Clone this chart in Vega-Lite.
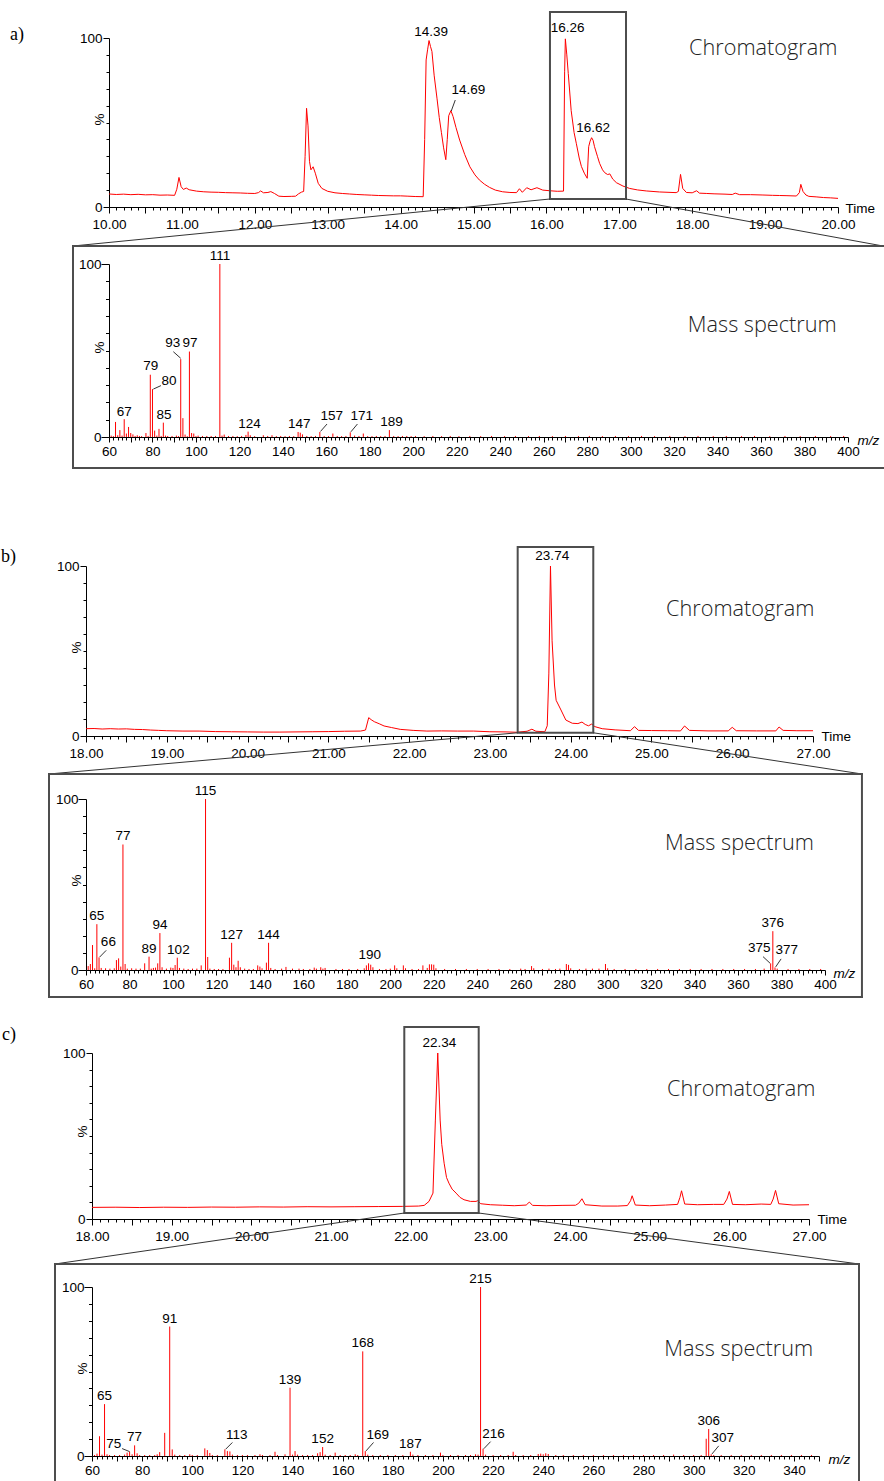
{
  "$schema": "https://vega.github.io/schema/vega-lite/v6.json",
  "background": "white",
  "padding": {"left": 0, "top": 10, "right": 0, "bottom": 0},
  "config": {
    "view": {"stroke": null},
    "axis": {
      "domainColor": "#000", "tickColor": "#000", "labelColor": "#000", "titleColor": "#000",
      "labelFont": "Liberation Sans", "labelFontSize": 13.5, "titleFont": "Liberation Sans",
      "titleFontSize": 13.5, "titleFontWeight": "normal", "grid": false, "labelFlush": false,
      "labelOverlap": false, "labelBound": false, "domainWidth": 1, "tickWidth": 1
    }
  },
  "datasets": {
    "chromA": [
      {"t":10.00,"p":7.7},{"t":10.10,"p":7.4},{"t":10.20,"p":7.6},{"t":10.30,"p":7.3},{"t":10.40,"p":7.5},{"t":10.50,"p":7.2},{"t":10.60,"p":7.3},{"t":10.70,"p":7.0},{"t":10.80,"p":7.1},{"t":10.90,"p":6.9},{"t":10.93,"p":10.5},{"t":10.96,"p":17.5},{"t":10.99,"p":12.0},{"t":11.02,"p":10.4},{"t":11.06,"p":11.2},{"t":11.10,"p":10.2},{"t":11.20,"p":9.4},{"t":11.30,"p":9.0},{"t":11.40,"p":8.8},{"t":11.50,"p":8.7},{"t":11.60,"p":8.5},{"t":11.70,"p":8.4},{"t":11.80,"p":8.3},{"t":11.90,"p":8.1},{"t":12.00,"p":8.0},{"t":12.05,"p":8.5},{"t":12.08,"p":9.5},{"t":12.12,"p":8.4},{"t":12.18,"p":8.6},{"t":12.22,"p":9.1},{"t":12.27,"p":8.0},{"t":12.33,"p":6.4},{"t":12.40,"p":6.2},{"t":12.50,"p":6.3},{"t":12.56,"p":6.4},{"t":12.60,"p":7.8},{"t":12.64,"p":8.8},{"t":12.67,"p":9.2},{"t":12.69,"p":30},{"t":12.71,"p":58.4},{"t":12.73,"p":48},{"t":12.75,"p":27},{"t":12.77,"p":22},{"t":12.80,"p":23.8},{"t":12.83,"p":20},{"t":12.87,"p":14},{"t":12.92,"p":11},{"t":13.00,"p":9.3},{"t":13.10,"p":8.4},{"t":13.20,"p":8.0},{"t":13.30,"p":7.7},{"t":13.40,"p":7.4},{"t":13.50,"p":7.2},{"t":13.60,"p":7.0},{"t":13.70,"p":6.8},{"t":13.80,"p":6.7},{"t":13.90,"p":6.6},{"t":14.00,"p":6.6},{"t":14.10,"p":6.4},{"t":14.20,"p":6.2},{"t":14.31,"p":6.1},{"t":14.33,"p":40},{"t":14.35,"p":87},{"t":14.37,"p":93},{"t":14.39,"p":98.5},{"t":14.41,"p":95},{"t":14.43,"p":92},{"t":14.46,"p":78},{"t":14.50,"p":64},{"t":14.53,"p":53},{"t":14.56,"p":44},{"t":14.59,"p":35},{"t":14.62,"p":28},{"t":14.64,"p":40},{"t":14.66,"p":54},{"t":14.69,"p":57},{"t":14.72,"p":53.5},{"t":14.76,"p":47},{"t":14.81,"p":39.6},{"t":14.88,"p":31},{"t":14.95,"p":23.8},{"t":15.02,"p":19},{"t":15.08,"p":16},{"t":15.15,"p":13.5},{"t":15.22,"p":11.6},{"t":15.30,"p":10},{"t":15.40,"p":9.0},{"t":15.50,"p":8.6},{"t":15.59,"p":8.5},{"t":15.63,"p":10.8},{"t":15.67,"p":8.7},{"t":15.73,"p":11.4},{"t":15.79,"p":10.2},{"t":15.87,"p":11.4},{"t":15.95,"p":10.0},{"t":16.05,"p":9.6},{"t":16.15,"p":9.3},{"t":16.235,"p":9.4},{"t":16.25,"p":80},{"t":16.26,"p":99.5},{"t":16.28,"p":90},{"t":16.30,"p":79},{"t":16.34,"p":57},{"t":16.38,"p":44},{"t":16.41,"p":37.7},{"t":16.45,"p":29},{"t":16.48,"p":24},{"t":16.52,"p":20},{"t":16.56,"p":17},{"t":16.58,"p":35.7},{"t":16.60,"p":39},{"t":16.62,"p":41},{"t":16.64,"p":39.5},{"t":16.66,"p":35.7},{"t":16.70,"p":30},{"t":16.73,"p":25.8},{"t":16.77,"p":22},{"t":16.80,"p":20.3},{"t":16.84,"p":19.2},{"t":16.87,"p":19.6},{"t":16.91,"p":16.5},{"t":16.96,"p":14.4},{"t":17.05,"p":12.4},{"t":17.14,"p":11},{"t":17.25,"p":10.1},{"t":17.37,"p":9.5},{"t":17.55,"p":8.9},{"t":17.78,"p":8.5},{"t":17.81,"p":9.2},{"t":17.84,"p":19.3},{"t":17.87,"p":11},{"t":17.92,"p":8.6},{"t":18.00,"p":8.4},{"t":18.06,"p":9.6},{"t":18.10,"p":8.2},{"t":18.20,"p":8.0},{"t":18.30,"p":7.8},{"t":18.45,"p":7.6},{"t":18.55,"p":7.4},{"t":18.59,"p":8.2},{"t":18.65,"p":7.3},{"t":18.80,"p":7.3},{"t":18.97,"p":7.1},{"t":19.10,"p":6.9},{"t":19.20,"p":6.8},{"t":19.30,"p":6.7},{"t":19.43,"p":6.5},{"t":19.47,"p":8.5},{"t":19.49,"p":13.4},{"t":19.52,"p":9.2},{"t":19.56,"p":7.1},{"t":19.60,"p":6.3},{"t":19.70,"p":6.0},{"t":19.80,"p":5.6},{"t":19.90,"p":5.4},{"t":20.00,"p":5.1}
    ],
    "chromB": [
      {"t":18.00,"p":4.3},{"t":18.10,"p":4.4},{"t":18.20,"p":4.1},{"t":18.30,"p":4.3},{"t":18.40,"p":4.1},{"t":18.50,"p":4.2},{"t":18.60,"p":3.9},{"t":18.70,"p":3.8},{"t":18.80,"p":3.5},{"t":18.90,"p":3.3},{"t":19.00,"p":3.1},{"t":19.20,"p":2.9},{"t":19.40,"p":2.9},{"t":19.60,"p":2.6},{"t":19.80,"p":2.5},{"t":20.00,"p":2.4},{"t":20.20,"p":2.3},{"t":20.40,"p":2.3},{"t":20.60,"p":2.4},{"t":20.80,"p":2.5},{"t":21.00,"p":2.6},{"t":21.20,"p":2.8},{"t":21.40,"p":2.9},{"t":21.46,"p":3.5},{"t":21.50,"p":10.8},{"t":21.53,"p":9.6},{"t":21.57,"p":8.4},{"t":21.63,"p":7.2},{"t":21.69,"p":5.9},{"t":21.78,"p":5.0},{"t":21.89,"p":3.9},{"t":22.05,"p":3.3},{"t":22.22,"p":2.9},{"t":22.40,"p":3.0},{"t":22.60,"p":2.9},{"t":22.80,"p":2.9},{"t":23.00,"p":2.5},{"t":23.20,"p":2.4},{"t":23.33,"p":2.2},{"t":23.46,"p":2.8},{"t":23.52,"p":4.0},{"t":23.57,"p":2.8},{"t":23.68,"p":2.5},{"t":23.71,"p":6},{"t":23.73,"p":37},{"t":23.75,"p":100},{"t":23.77,"p":56},{"t":23.80,"p":30},{"t":23.82,"p":21},{"t":23.88,"p":15.3},{"t":23.94,"p":9.4},{"t":24.02,"p":7.5},{"t":24.09,"p":7.3},{"t":24.14,"p":8.2},{"t":24.18,"p":6.8},{"t":24.22,"p":6.0},{"t":24.26,"p":7.0},{"t":24.30,"p":5.5},{"t":24.39,"p":4.3},{"t":24.55,"p":3.6},{"t":24.74,"p":3.1},{"t":24.79,"p":5.5},{"t":24.84,"p":3.3},{"t":25.00,"p":3.2},{"t":25.20,"p":3.1},{"t":25.36,"p":3.0},{"t":25.41,"p":5.9},{"t":25.47,"p":3.3},{"t":25.70,"p":3.0},{"t":25.95,"p":3.0},{"t":26.00,"p":5.1},{"t":26.05,"p":3.1},{"t":26.30,"p":3.0},{"t":26.54,"p":3.0},{"t":26.58,"p":5.3},{"t":26.63,"p":3.3},{"t":26.80,"p":3.1},{"t":27.00,"p":3.1}
    ],
    "chromC": [
      {"t":18.00,"p":7.0},{"t":18.30,"p":7.1},{"t":18.60,"p":6.9},{"t":18.90,"p":7.1},{"t":19.20,"p":7.0},{"t":19.50,"p":7.2},{"t":19.80,"p":7.1},{"t":20.10,"p":7.3},{"t":20.40,"p":7.2},{"t":20.70,"p":7.4},{"t":21.00,"p":7.3},{"t":21.30,"p":7.4},{"t":21.60,"p":7.5},{"t":21.90,"p":7.6},{"t":22.10,"p":7.8},{"t":22.17,"p":8.2},{"t":22.23,"p":10.6},{"t":22.28,"p":15.6},{"t":22.31,"p":59.6},{"t":22.34,"p":100},{"t":22.37,"p":59.6},{"t":22.39,"p":45},{"t":22.42,"p":33.6},{"t":22.45,"p":25},{"t":22.48,"p":21.6},{"t":22.52,"p":18},{"t":22.57,"p":15.6},{"t":22.62,"p":13},{"t":22.67,"p":11.6},{"t":22.75,"p":10.6},{"t":22.82,"p":10.6},{"t":22.84,"p":11.0},{"t":22.88,"p":9.2},{"t":23.00,"p":8.6},{"t":23.15,"p":8.3},{"t":23.30,"p":8.0},{"t":23.45,"p":8.4},{"t":23.49,"p":10.2},{"t":23.53,"p":8.2},{"t":23.70,"p":8.0},{"t":23.90,"p":8.2},{"t":24.07,"p":8.3},{"t":24.11,"p":9.5},{"t":24.15,"p":12.2},{"t":24.19,"p":8.6},{"t":24.40,"p":7.8},{"t":24.60,"p":7.8},{"t":24.72,"p":8.1},{"t":24.76,"p":11},{"t":24.78,"p":14},{"t":24.82,"p":8.4},{"t":25.00,"p":8.0},{"t":25.20,"p":8.4},{"t":25.35,"p":8.8},{"t":25.38,"p":13},{"t":25.40,"p":17},{"t":25.44,"p":9.0},{"t":25.60,"p":8.6},{"t":25.80,"p":8.8},{"t":25.93,"p":8.8},{"t":25.97,"p":12},{"t":26.00,"p":16.6},{"t":26.04,"p":8.8},{"t":26.20,"p":8.6},{"t":26.40,"p":9.0},{"t":26.52,"p":8.8},{"t":26.55,"p":12},{"t":26.58,"p":17.2},{"t":26.62,"p":9.2},{"t":26.80,"p":8.4},{"t":27.00,"p":8.6}
    ],
    "msA": [
      {"mz":61,"int":0.8},{"mz":62,"int":0.5},{"mz":63,"int":8.7},{"mz":64,"int":1.0},{"mz":65,"int":4.0},{"mz":66,"int":0.8},{"mz":67,"int":10.3},{"mz":68,"int":2.0},{"mz":69,"int":5.8},{"mz":70,"int":2.3},{"mz":71,"int":1.5},{"mz":72,"int":0.6},{"mz":73,"int":1.0},{"mz":74,"int":0.6},{"mz":75,"int":0.5},{"mz":77,"int":2.3},{"mz":78,"int":0.6},{"mz":79,"int":36},{"mz":80,"int":27.7},{"mz":81,"int":3.7},{"mz":82,"int":0.8},{"mz":83,"int":4.7},{"mz":84,"int":0.6},{"mz":85,"int":8.3},{"mz":86,"int":0.8},{"mz":87,"int":0.6},{"mz":89,"int":0.6},{"mz":91,"int":0.8},{"mz":92,"int":0.5},{"mz":93,"int":45},{"mz":94,"int":10.9},{"mz":95,"int":1.4},{"mz":96,"int":0.5},{"mz":97,"int":49.4},{"mz":98,"int":2.3},{"mz":99,"int":2.0},{"mz":100,"int":0.5},{"mz":101,"int":0.8},{"mz":103,"int":0.6},{"mz":105,"int":0.6},{"mz":107,"int":0.6},{"mz":109,"int":0.6},{"mz":111,"int":100},{"mz":112,"int":0.8},{"mz":113,"int":1.4},{"mz":115,"int":0.6},{"mz":117,"int":0.6},{"mz":119,"int":0.5},{"mz":121,"int":0.6},{"mz":123,"int":1.2},{"mz":124,"int":3.1},{"mz":125,"int":1.0},{"mz":127,"int":0.5},{"mz":131,"int":1.0},{"mz":133,"int":0.6},{"mz":135,"int":1.0},{"mz":137,"int":0.5},{"mz":139,"int":0.6},{"mz":141,"int":0.5},{"mz":143,"int":0.6},{"mz":145,"int":0.5},{"mz":147,"int":2.9},{"mz":148,"int":2.5},{"mz":149,"int":1.5},{"mz":151,"int":0.6},{"mz":153,"int":0.5},{"mz":155,"int":0.6},{"mz":157,"int":2.9},{"mz":159,"int":0.6},{"mz":161,"int":0.5},{"mz":163,"int":2.0},{"mz":165,"int":0.6},{"mz":167,"int":0.5},{"mz":169,"int":0.6},{"mz":171,"int":2.7},{"mz":173,"int":0.8},{"mz":175,"int":0.6},{"mz":177,"int":2.0},{"mz":179,"int":0.5},{"mz":181,"int":0.5},{"mz":183,"int":0.6},{"mz":185,"int":0.5},{"mz":187,"int":0.6},{"mz":189,"int":4.0},{"mz":191,"int":0.6},{"mz":193,"int":0.5},{"mz":195,"int":0.6},{"mz":197,"int":0.6},{"mz":199,"int":0.5},{"mz":201,"int":0.6},{"mz":205,"int":0.5},{"mz":209,"int":0.6},{"mz":213,"int":0.5},{"mz":217,"int":0.6},{"mz":221,"int":0.5},{"mz":226,"int":0.6},{"mz":231,"int":0.5},{"mz":236,"int":0.6},{"mz":242,"int":0.5},{"mz":247,"int":0.6},{"mz":253,"int":0.5},{"mz":258,"int":0.6},{"mz":264,"int":0.5},{"mz":270,"int":0.6},{"mz":276,"int":0.5},{"mz":281,"int":0.6},{"mz":287,"int":0.5},{"mz":293,"int":0.6},{"mz":299,"int":0.5},{"mz":305,"int":0.6},{"mz":311,"int":0.5},{"mz":318,"int":0.6},{"mz":325,"int":0.5},{"mz":331,"int":0.6},{"mz":338,"int":0.5},{"mz":344,"int":0.6},{"mz":351,"int":0.5},{"mz":357,"int":0.6},{"mz":364,"int":0.5},{"mz":371,"int":0.6},{"mz":378,"int":0.5},{"mz":385,"int":0.6},{"mz":392,"int":0.5},{"mz":398,"int":0.6}
    ],
    "msB": [
      {"mz":61,"int":2.3},{"mz":62,"int":3.5},{"mz":63,"int":14.6},{"mz":64,"int":1.0},{"mz":65,"int":26.8},{"mz":66,"int":7.4},{"mz":67,"int":1.2},{"mz":69,"int":1.0},{"mz":71,"int":0.8},{"mz":73,"int":1.0},{"mz":74,"int":5.8},{"mz":75,"int":6.8},{"mz":76,"int":2.0},{"mz":77,"int":73.4},{"mz":78,"int":3.5},{"mz":79,"int":0.8},{"mz":81,"int":1.0},{"mz":83,"int":0.8},{"mz":85,"int":0.8},{"mz":87,"int":3.9},{"mz":89,"int":7.8},{"mz":90,"int":0.8},{"mz":91,"int":1.2},{"mz":92,"int":1.4},{"mz":93,"int":3.9},{"mz":94,"int":21.6},{"mz":95,"int":1.6},{"mz":97,"int":0.8},{"mz":99,"int":1.4},{"mz":100,"int":1.2},{"mz":101,"int":2.9},{"mz":102,"int":7.2},{"mz":103,"int":1.2},{"mz":105,"int":0.8},{"mz":107,"int":0.6},{"mz":109,"int":0.8},{"mz":111,"int":0.8},{"mz":113,"int":2.7},{"mz":115,"int":100},{"mz":116,"int":7.6},{"mz":117,"int":0.8},{"mz":119,"int":0.6},{"mz":121,"int":0.6},{"mz":123,"int":0.6},{"mz":126,"int":7.2},{"mz":127,"int":15.9},{"mz":128,"int":3.1},{"mz":129,"int":1.6},{"mz":130,"int":5.4},{"mz":131,"int":1.6},{"mz":133,"int":0.8},{"mz":135,"int":0.6},{"mz":137,"int":0.6},{"mz":139,"int":2.7},{"mz":140,"int":2.0},{"mz":141,"int":1.0},{"mz":143,"int":4.3},{"mz":144,"int":15.9},{"mz":145,"int":1.2},{"mz":147,"int":0.6},{"mz":150,"int":0.8},{"mz":152,"int":1.8},{"mz":155,"int":0.8},{"mz":158,"int":0.8},{"mz":160,"int":0.6},{"mz":163,"int":0.6},{"mz":165,"int":1.4},{"mz":166,"int":0.8},{"mz":168,"int":1.6},{"mz":169,"int":0.8},{"mz":170,"int":1.2},{"mz":175,"int":0.6},{"mz":178,"int":0.6},{"mz":181,"int":0.6},{"mz":185,"int":0.6},{"mz":188,"int":1.0},{"mz":189,"int":2.7},{"mz":190,"int":3.9},{"mz":191,"int":3.1},{"mz":192,"int":1.6},{"mz":195,"int":0.6},{"mz":198,"int":0.6},{"mz":200,"int":0.8},{"mz":202,"int":2.7},{"mz":203,"int":1.0},{"mz":206,"int":2.7},{"mz":207,"int":1.0},{"mz":210,"int":0.6},{"mz":213,"int":0.6},{"mz":215,"int":2.7},{"mz":217,"int":1.2},{"mz":218,"int":3.3},{"mz":219,"int":3.3},{"mz":220,"int":3.1},{"mz":221,"int":1.0},{"mz":225,"int":0.6},{"mz":230,"int":0.6},{"mz":235,"int":0.6},{"mz":240,"int":0.6},{"mz":245,"int":0.6},{"mz":250,"int":0.6},{"mz":255,"int":0.6},{"mz":260,"int":0.8},{"mz":262,"int":0.6},{"mz":265,"int":2.3},{"mz":266,"int":1.0},{"mz":270,"int":0.6},{"mz":273,"int":0.8},{"mz":276,"int":0.6},{"mz":278,"int":0.8},{"mz":281,"int":3.5},{"mz":282,"int":3.0},{"mz":283,"int":1.0},{"mz":287,"int":0.6},{"mz":290,"int":0.8},{"mz":293,"int":0.8},{"mz":296,"int":0.8},{"mz":299,"int":3.5},{"mz":300,"int":1.0},{"mz":303,"int":0.6},{"mz":308,"int":0.6},{"mz":313,"int":0.6},{"mz":318,"int":0.6},{"mz":323,"int":0.6},{"mz":328,"int":0.6},{"mz":333,"int":0.6},{"mz":338,"int":0.6},{"mz":343,"int":0.6},{"mz":348,"int":0.6},{"mz":353,"int":0.6},{"mz":358,"int":0.6},{"mz":363,"int":0.6},{"mz":368,"int":0.6},{"mz":372,"int":0.8},{"mz":375,"int":3.9},{"mz":376,"int":22.7},{"mz":377,"int":1.5},{"mz":378,"int":0.8},{"mz":383,"int":0.6},{"mz":388,"int":0.6},{"mz":393,"int":0.6},{"mz":398,"int":0.6}
    ],
    "msC": [
      {"mz":61,"int":0.6},{"mz":62,"int":1.4},{"mz":63,"int":11.7},{"mz":64,"int":0.8},{"mz":65,"int":30.7},{"mz":66,"int":1.0},{"mz":67,"int":0.6},{"mz":69,"int":0.6},{"mz":71,"int":0.6},{"mz":73,"int":0.8},{"mz":74,"int":2.0},{"mz":75,"int":2.5},{"mz":76,"int":1.0},{"mz":77,"int":6.3},{"mz":78,"int":1.6},{"mz":79,"int":0.6},{"mz":81,"int":0.6},{"mz":83,"int":0.6},{"mz":85,"int":0.6},{"mz":86,"int":1.0},{"mz":87,"int":2.3},{"mz":89,"int":13.7},{"mz":91,"int":76.6},{"mz":92,"int":3.9},{"mz":93,"int":0.8},{"mz":95,"int":0.6},{"mz":97,"int":0.6},{"mz":99,"int":1.0},{"mz":100,"int":0.6},{"mz":102,"int":0.6},{"mz":105,"int":4.5},{"mz":106,"int":3.5},{"mz":107,"int":1.8},{"mz":108,"int":0.6},{"mz":110,"int":0.6},{"mz":113,"int":3.9},{"mz":114,"int":2.9},{"mz":115,"int":2.7},{"mz":116,"int":0.8},{"mz":118,"int":0.6},{"mz":120,"int":0.6},{"mz":122,"int":0.6},{"mz":125,"int":0.6},{"mz":127,"int":1.0},{"mz":128,"int":0.6},{"mz":131,"int":0.6},{"mz":133,"int":2.5},{"mz":134,"int":0.6},{"mz":137,"int":1.0},{"mz":139,"int":40.4},{"mz":140,"int":0.8},{"mz":141,"int":2.9},{"mz":142,"int":0.8},{"mz":144,"int":0.6},{"mz":146,"int":0.6},{"mz":148,"int":0.6},{"mz":150,"int":1.6},{"mz":151,"int":2.3},{"mz":152,"int":5.3},{"mz":153,"int":0.8},{"mz":155,"int":0.6},{"mz":157,"int":2.0},{"mz":159,"int":0.6},{"mz":161,"int":0.6},{"mz":163,"int":0.6},{"mz":165,"int":1.0},{"mz":166,"int":0.6},{"mz":168,"int":61.9},{"mz":169,"int":2.9},{"mz":170,"int":0.8},{"mz":172,"int":0.6},{"mz":175,"int":0.6},{"mz":178,"int":0.6},{"mz":181,"int":0.6},{"mz":184,"int":0.6},{"mz":187,"int":2.5},{"mz":188,"int":0.8},{"mz":190,"int":0.6},{"mz":193,"int":0.6},{"mz":196,"int":0.6},{"mz":199,"int":2.0},{"mz":200,"int":0.6},{"mz":203,"int":0.6},{"mz":206,"int":0.6},{"mz":209,"int":0.6},{"mz":211,"int":0.6},{"mz":213,"int":1.0},{"mz":214,"int":0.8},{"mz":215,"int":100},{"mz":216,"int":4.3},{"mz":217,"int":0.8},{"mz":220,"int":0.6},{"mz":223,"int":0.6},{"mz":226,"int":0.6},{"mz":228,"int":2.5},{"mz":229,"int":0.6},{"mz":232,"int":0.6},{"mz":235,"int":0.6},{"mz":238,"int":1.2},{"mz":239,"int":1.4},{"mz":240,"int":1.0},{"mz":241,"int":1.6},{"mz":242,"int":1.2},{"mz":245,"int":0.6},{"mz":248,"int":0.6},{"mz":252,"int":0.6},{"mz":256,"int":0.6},{"mz":260,"int":0.6},{"mz":264,"int":0.6},{"mz":268,"int":0.6},{"mz":272,"int":0.6},{"mz":276,"int":0.6},{"mz":280,"int":0.6},{"mz":284,"int":0.6},{"mz":288,"int":0.6},{"mz":292,"int":0.8},{"mz":296,"int":0.6},{"mz":300,"int":0.6},{"mz":303,"int":0.6},{"mz":305,"int":10.2},{"mz":306,"int":16.0},{"mz":307,"int":1.0},{"mz":308,"int":0.6},{"mz":311,"int":0.6},{"mz":315,"int":0.6},{"mz":319,"int":0.6},{"mz":323,"int":0.6},{"mz":327,"int":0.6},{"mz":331,"int":0.6},{"mz":335,"int":0.6},{"mz":339,"int":0.6},{"mz":343,"int":0.6},{"mz":347,"int":0.6}
    ]
  },
  "spacing": 75,
  "vconcat": [
    {
      "spacing": 0,
      "hconcat": [
        {"width": 10, "height": 1, "data": {"values": []}, "mark": "point", "encoding": {}},
        {
          "spacing": -3,
          "vconcat": [
            {
              "width": 729, "height": 169,
              "layer": [
                {
                  "data": {"name": "chromA"},
                  "mark": {"type": "line", "color": "#ff0000", "strokeWidth": 1},
                  "encoding": {
                    "x": {"field": "t", "type": "quantitative", "scale": {"domain": [10, 20], "nice": false, "zero": false},
                      "axis": {"title": "Time", "titleX": 736, "titleY": 1, "titleAlign": "left", "titleBaseline": "middle", "titleAngle": 0,
                        "tickCount": 100, "labelPadding": 4,
                        "labelExpr": "abs(datum.value - round(datum.value)) < 0.001 ? format(datum.value, '.2f') : ''",
                        "tickSize": {"condition": {"test": "abs(datum.value * 2 - round(datum.value * 2)) < 0.001", "value": 6}, "value": 3}}},
                    "y": {"field": "p", "type": "quantitative", "scale": {"domain": [0, 100], "nice": false, "zero": false},
                      "axis": {"title": "%", "titleX": -3, "titleY": 81, "titleBaseline": "bottom", "titleAlign": "center", "titleAngle": -90,
                        "tickCount": 10, "labelPadding": 1,
                        "labelExpr": "datum.value == 0 || datum.value == 100 ? format(datum.value, 'd') : ''",
                        "tickSize": {"condition": {"test": "datum.value == 0 || datum.value == 100", "value": 6}, "value": 3}}}
                  }
                },
                {
                  "data": {"values": [{"t": 16.049, "t2": 17.092, "p": 4.73, "p2": 115.4}]},
                  "mark": {"type": "rect", "filled": false, "color": "#4d4d4d", "strokeWidth": 2},
                  "encoding": {"x": {"field": "t", "type": "quantitative"}, "x2": {"field": "t2"}, "y": {"field": "p", "type": "quantitative"}, "y2": {"field": "p2"}}
                },
                {
                  "data": {"values": [{"t": 16.049, "p": 4.73, "t2": 9.506, "p2": -23.08}, {"t": 17.092, "p": 4.73, "t2": 20.617, "p2": -23.08}]},
                  "mark": {"type": "rule", "color": "#333333", "strokeWidth": 1},
                  "encoding": {"x": {"field": "t", "type": "quantitative"}, "x2": {"field": "t2"}, "y": {"field": "p", "type": "quantitative"}, "y2": {"field": "p2"}}
                },
                {
                  "data": {"values": [{"t": 14.695, "p": 56.8, "t2": 14.75, "p2": 63.3}]},
                  "mark": {"type": "rule", "color": "#000", "strokeWidth": 0.8},
                  "encoding": {"x": {"field": "t", "type": "quantitative"}, "x2": {"field": "t2"}, "y": {"field": "p", "type": "quantitative"}, "y2": {"field": "p2"}}
                },
                {
                  "data": {"values": [{"t": 14.42, "p": 99.2, "label": "14.39"}, {"t": 14.93, "p": 65.3, "label": "14.69"}, {"t": 16.29, "p": 101.8, "label": "16.26"}, {"t": 16.64, "p": 42.6, "label": "16.62"}]},
                  "mark": {"type": "text", "font": "Liberation Sans", "fontSize": 13.5, "color": "#000", "align": "center", "baseline": "bottom"},
                  "encoding": {"x": {"field": "t", "type": "quantitative"}, "y": {"field": "p", "type": "quantitative"}, "text": {"field": "label"}}
                },
                {
                  "data": {"values": [{"t": 17.956, "p": 89.9, "label": "Chromatogram"}]},
                  "mark": {"type": "text", "font": "Open Sans", "fontWeight": 300, "fontSize": 21.7, "color": "#222", "align": "left", "baseline": "alphabetic"},
                  "encoding": {"x": {"field": "t", "type": "quantitative"}, "y": {"field": "p", "type": "quantitative"}, "text": {"field": "label"}}
                },
                {
                  "data": {"values": [{"t": 8.642, "p": 98.8, "label": "a)"}]},
                  "mark": {"type": "text", "font": "Liberation Serif", "fontSize": 18, "color": "#000", "align": "left", "baseline": "alphabetic"},
                  "encoding": {"x": {"field": "t", "type": "quantitative"}, "y": {"field": "p", "type": "quantitative"}, "text": {"field": "label"}}
                }
              ]
            },
            {
              "width": 739, "height": 173,
              "layer": [
                {
                  "data": {"name": "msA"},
                  "mark": {"type": "rule", "color": "#ff0000", "strokeWidth": 1},
                  "encoding": {
                    "x": {"field": "mz", "type": "quantitative", "scale": {"domain": [60, 400], "nice": false, "zero": false},
                      "axis": {"title": "m/z", "titleFontStyle": "italic", "titleX": 748, "titleY": 3, "titleAlign": "left", "titleBaseline": "middle", "titleAngle": 0,
                        "tickCount": 170, "labelPadding": 2,
                        "labelExpr": "datum.value % 20 == 0 ? format(datum.value, 'd') : ''",
                        "tickSize": {"condition": {"test": "datum.value % 10 == 0", "value": 5}, "value": 3}}},
                    "y": {"field": "int", "type": "quantitative", "scale": {"domain": [0, 100], "nice": false, "zero": false},
                      "axis": {"title": "%", "titleX": -3, "titleY": 83, "titleBaseline": "bottom", "titleAlign": "center", "titleAngle": -90,
                        "tickCount": 10, "labelPadding": 0,
                        "labelExpr": "datum.value == 0 || datum.value == 100 ? format(datum.value, 'd') : ''",
                        "tickSize": {"condition": {"test": "datum.value == 0 || datum.value == 100", "value": 8}, "value": 3.5}}},
                    "y2": {"datum": 0}
                  }
                },
                {
                  "data": {"values": [{"mz": 43.44, "int": 110.4, "mz2": 416.1, "int2": 110.4}, {"mz": 43.44, "int": 110.4, "mz2": 43.44, "int2": -17.9}, {"mz": 43.44, "int": -17.9, "mz2": 416.1, "int2": -17.9}]},
                  "mark": {"type": "rule", "color": "#4d4d4d", "strokeWidth": 2, "strokeCap": "square"},
                  "encoding": {"x": {"field": "mz", "type": "quantitative"}, "x2": {"field": "mz2"}, "y": {"field": "int", "type": "quantitative"}, "y2": {"field": "int2"}}
                },
                {
                  "data": {"values": [{"mz": 80.4, "int": 27.7, "mz2": 83.9, "int2": 29.7}, {"mz": 93, "int": 45.5, "mz2": 89.6, "int2": 49.3}, {"mz": 157.3, "int": 3.2, "mz2": 160.3, "int2": 7.5}, {"mz": 171.3, "int": 3, "mz2": 174.3, "int2": 7.5}]},
                  "mark": {"type": "rule", "color": "#000", "strokeWidth": 0.8},
                  "encoding": {"x": {"field": "mz", "type": "quantitative"}, "x2": {"field": "mz2"}, "y": {"field": "int", "type": "quantitative"}, "y2": {"field": "int2"}}
                },
                {
                  "data": {"values": [{"mz": 67, "int": 10.4, "label": "67"}, {"mz": 79.2, "int": 36.8, "label": "79"}, {"mz": 87.6, "int": 28.5, "label": "80"}, {"mz": 85.3, "int": 8.9, "label": "85"}, {"mz": 89.3, "int": 50.3, "label": "93"}, {"mz": 97.3, "int": 50.3, "label": "97"}, {"mz": 111.1, "int": 100.5, "label": "111"}, {"mz": 124.6, "int": 3.4, "label": "124"}, {"mz": 147.5, "int": 3.4, "label": "147"}, {"mz": 162.5, "int": 8.3, "label": "157"}, {"mz": 176.3, "int": 8.3, "label": "171"}, {"mz": 190, "int": 4.6, "label": "189"}]},
                  "mark": {"type": "text", "font": "Liberation Sans", "fontSize": 13.5, "color": "#000", "align": "center", "baseline": "bottom"},
                  "encoding": {"x": {"field": "mz", "type": "quantitative"}, "y": {"field": "int", "type": "quantitative"}, "text": {"field": "label"}}
                },
                {
                  "data": {"values": [{"mz": 326.3, "int": 60.9, "label": "Mass spectrum"}]},
                  "mark": {"type": "text", "font": "Open Sans", "fontWeight": 300, "fontSize": 21.7, "color": "#222", "align": "left", "baseline": "alphabetic"},
                  "encoding": {"x": {"field": "mz", "type": "quantitative"}, "y": {"field": "int", "type": "quantitative"}, "text": {"field": "label"}}
                }
              ]
            }
          ]
        }
      ]
    },
    {
      "spacing": 26,
      "vconcat": [
        {
          "spacing": 0,
          "hconcat": [
            {"width": 1, "height": 1, "data": {"values": []}, "mark": "point", "encoding": {}},
            {
              "spacing": -3,
              "vconcat": [
                {
                  "width": 727, "height": 170,
                  "layer": [
                    {
                      "data": {"name": "chromB"},
                      "mark": {"type": "line", "color": "#ff0000", "strokeWidth": 1},
                      "encoding": {
                        "x": {"field": "t", "type": "quantitative", "scale": {"domain": [18, 27], "nice": false, "zero": false},
                          "axis": {"title": "Time", "titleX": 735, "titleY": 0, "titleAlign": "left", "titleBaseline": "middle", "titleAngle": 0,
                            "tickCount": 90, "labelPadding": 4,
                            "labelExpr": "abs(datum.value - round(datum.value)) < 0.001 ? format(datum.value, '.2f') : ''",
                            "tickSize": {"condition": {"test": "abs(datum.value * 2 - round(datum.value * 2)) < 0.001", "value": 6}, "value": 3}}},
                        "y": {"field": "p", "type": "quantitative", "scale": {"domain": [0, 100], "nice": false, "zero": false},
                          "axis": {"title": "%", "titleX": -3, "titleY": 81, "titleBaseline": "bottom", "titleAlign": "center", "titleAngle": -90,
                            "tickCount": 10, "labelPadding": 1,
                            "labelExpr": "datum.value == 0 || datum.value == 100 ? format(datum.value, 'd') : ''",
                            "tickSize": {"condition": {"test": "datum.value == 0 || datum.value == 100", "value": 6}, "value": 3}}}
                      }
                    },
                    {
                      "data": {"values": [{"t": 23.344, "t2": 24.280, "p": 1.9, "p2": 111.2}]},
                      "mark": {"type": "rect", "filled": false, "color": "#4d4d4d", "strokeWidth": 2},
                      "encoding": {"x": {"field": "t", "type": "quantitative"}, "x2": {"field": "t2"}, "y": {"field": "p", "type": "quantitative"}, "y2": {"field": "p2"}}
                    },
                    {
                      "data": {"values": [{"t": 23.344, "p": 1.9, "t2": 17.542, "p2": -22.35}, {"t": 24.280, "p": 1.9, "t2": 27.606, "p2": -22.35}]},
                      "mark": {"type": "rule", "color": "#333333", "strokeWidth": 1},
                      "encoding": {"x": {"field": "t", "type": "quantitative"}, "x2": {"field": "t2"}, "y": {"field": "p", "type": "quantitative"}, "y2": {"field": "p2"}}
                    },
                    {
                      "data": {"values": [{"t": 23.772, "p": 101.9, "label": "23.74"}]},
                      "mark": {"type": "text", "font": "Liberation Sans", "fontSize": 13.5, "color": "#000", "align": "center", "baseline": "bottom"},
                      "encoding": {"x": {"field": "t", "type": "quantitative"}, "y": {"field": "p", "type": "quantitative"}, "text": {"field": "label"}}
                    },
                    {
                      "data": {"values": [{"t": 25.18, "p": 70.6, "label": "Chromatogram"}]},
                      "mark": {"type": "text", "font": "Open Sans", "fontWeight": 300, "fontSize": 21.7, "color": "#222", "align": "left", "baseline": "alphabetic"},
                      "encoding": {"x": {"field": "t", "type": "quantitative"}, "y": {"field": "p", "type": "quantitative"}, "text": {"field": "label"}}
                    },
                    {
                      "data": {"values": [{"t": 16.948, "p": 102.4, "label": "b)"}]},
                      "mark": {"type": "text", "font": "Liberation Serif", "fontSize": 18, "color": "#000", "align": "left", "baseline": "alphabetic"},
                      "encoding": {"x": {"field": "t", "type": "quantitative"}, "y": {"field": "p", "type": "quantitative"}, "text": {"field": "label"}}
                    }
                  ]
                },
                {
                  "width": 739, "height": 171,
                  "layer": [
                    {
                      "data": {"name": "msB"},
                      "mark": {"type": "rule", "color": "#ff0000", "strokeWidth": 1},
                      "encoding": {
                        "x": {"field": "mz", "type": "quantitative", "scale": {"domain": [60, 400], "nice": false, "zero": false},
                          "axis": {"title": "m/z", "titleFontStyle": "italic", "titleX": 747, "titleY": 3, "titleAlign": "left", "titleBaseline": "middle", "titleAngle": 0,
                            "tickCount": 170, "labelPadding": 2,
                            "labelExpr": "datum.value % 20 == 0 ? format(datum.value, 'd') : ''",
                            "tickSize": {"condition": {"test": "datum.value % 10 == 0", "value": 5}, "value": 3}}},
                        "y": {"field": "int", "type": "quantitative", "scale": {"domain": [0, 100], "nice": false, "zero": false},
                          "axis": {"title": "%", "titleX": -3, "titleY": 81, "titleBaseline": "bottom", "titleAlign": "center", "titleAngle": -90,
                            "tickCount": 10, "labelPadding": 0,
                            "labelExpr": "datum.value == 0 || datum.value == 100 ? format(datum.value, 'd') : ''",
                            "tickSize": {"condition": {"test": "datum.value == 0 || datum.value == 100", "value": 8}, "value": 3.5}}},
                        "y2": {"datum": 0}
                      }
                    },
                    {
                      "data": {"values": [{"mz": 42.98, "int": 114.6, "mz2": 417.0, "int2": 114.6}, {"mz": 42.98, "int": 114.6, "mz2": 42.98, "int2": -15.8}, {"mz": 42.98, "int": -15.8, "mz2": 417.0, "int2": -15.8}, {"mz": 417.0, "int": 114.6, "mz2": 417.0, "int2": -15.8}]},
                      "mark": {"type": "rule", "color": "#4d4d4d", "strokeWidth": 2, "strokeCap": "square"},
                      "encoding": {"x": {"field": "mz", "type": "quantitative"}, "x2": {"field": "mz2"}, "y": {"field": "int", "type": "quantitative"}, "y2": {"field": "int2"}}
                    },
                    {
                      "data": {"values": [{"mz": 66.3, "int": 7.6, "mz2": 69.3, "int2": 11.5}, {"mz": 374.7, "int": 4, "mz2": 371.5, "int2": 7.8}, {"mz": 377.3, "int": 1.8, "mz2": 379.8, "int2": 6.5}]},
                      "mark": {"type": "rule", "color": "#000", "strokeWidth": 0.8},
                      "encoding": {"x": {"field": "mz", "type": "quantitative"}, "x2": {"field": "mz2"}, "y": {"field": "int", "type": "quantitative"}, "y2": {"field": "int2"}}
                    },
                    {
                      "data": {"values": [{"mz": 65, "int": 27.4, "label": "65"}, {"mz": 70.3, "int": 12.3, "label": "66"}, {"mz": 77, "int": 74, "label": "77"}, {"mz": 89, "int": 8.4, "label": "89"}, {"mz": 94, "int": 22.2, "label": "94"}, {"mz": 102.5, "int": 7.8, "label": "102"}, {"mz": 115, "int": 100.6, "label": "115"}, {"mz": 127, "int": 16.5, "label": "127"}, {"mz": 144, "int": 16.5, "label": "144"}, {"mz": 190.5, "int": 4.5, "label": "190"}, {"mz": 369.8, "int": 8.8, "label": "375"}, {"mz": 376, "int": 23.3, "label": "376"}, {"mz": 382.4, "int": 7.4, "label": "377"}]},
                      "mark": {"type": "text", "font": "Liberation Sans", "fontSize": 13.5, "color": "#000", "align": "center", "baseline": "bottom"},
                      "encoding": {"x": {"field": "mz", "type": "quantitative"}, "y": {"field": "int", "type": "quantitative"}, "text": {"field": "label"}}
                    },
                    {
                      "data": {"values": [{"mz": 326.4, "int": 70.2, "label": "Mass spectrum"}]},
                      "mark": {"type": "text", "font": "Open Sans", "fontWeight": 300, "fontSize": 21.7, "color": "#222", "align": "left", "baseline": "alphabetic"},
                      "encoding": {"x": {"field": "mz", "type": "quantitative"}, "y": {"field": "int", "type": "quantitative"}, "text": {"field": "label"}}
                    }
                  ]
                }
              ]
            }
          ]
        },
        {
          "spacing": 0,
          "hconcat": [
            {"width": 1, "height": 1, "data": {"values": []}, "mark": "point", "encoding": {}},
            {
              "spacing": -3,
              "vconcat": [
                {
                  "width": 717, "height": 166,
                  "layer": [
                    {
                      "data": {"name": "chromC"},
                      "mark": {"type": "line", "color": "#ff0000", "strokeWidth": 1},
                      "encoding": {
                        "x": {"field": "t", "type": "quantitative", "scale": {"domain": [18, 27], "nice": false, "zero": false},
                          "axis": {"title": "Time", "titleX": 725, "titleY": 0, "titleAlign": "left", "titleBaseline": "middle", "titleAngle": 0,
                            "tickCount": 90, "labelPadding": 4,
                            "labelExpr": "abs(datum.value - round(datum.value)) < 0.001 ? format(datum.value, '.2f') : ''",
                            "tickSize": {"condition": {"test": "abs(datum.value * 2 - round(datum.value * 2)) < 0.001", "value": 6}, "value": 3}}},
                        "y": {"field": "p", "type": "quantitative", "scale": {"domain": [0, 100], "nice": false, "zero": false},
                          "axis": {"title": "%", "titleX": -3, "titleY": 78, "titleBaseline": "bottom", "titleAlign": "center", "titleAngle": -90,
                            "tickCount": 10, "labelPadding": 1,
                            "labelExpr": "datum.value == 0 || datum.value == 100 ? format(datum.value, 'd') : ''",
                            "tickSize": {"condition": {"test": "datum.value == 0 || datum.value == 100", "value": 6}, "value": 3}}}
                      }
                    },
                    {
                      "data": {"values": [{"t": 21.920, "t2": 22.854, "p": 3.6, "p2": 115.7}]},
                      "mark": {"type": "rect", "filled": false, "color": "#4d4d4d", "strokeWidth": 2},
                      "encoding": {"x": {"field": "t", "type": "quantitative"}, "x2": {"field": "t2"}, "y": {"field": "p", "type": "quantitative"}, "y2": {"field": "p2"}}
                    },
                    {
                      "data": {"values": [{"t": 21.920, "p": 3.6, "t2": 17.536, "p2": -27.1}, {"t": 22.854, "p": 3.6, "t2": 27.627, "p2": -27.1}]},
                      "mark": {"type": "rule", "color": "#333333", "strokeWidth": 1},
                      "encoding": {"x": {"field": "t", "type": "quantitative"}, "x2": {"field": "t2"}, "y": {"field": "p", "type": "quantitative"}, "y2": {"field": "p2"}}
                    },
                    {
                      "data": {"values": [{"t": 22.36, "p": 101.8, "label": "22.34"}]},
                      "mark": {"type": "text", "font": "Liberation Sans", "fontSize": 13.5, "color": "#000", "align": "center", "baseline": "bottom"},
                      "encoding": {"x": {"field": "t", "type": "quantitative"}, "y": {"field": "p", "type": "quantitative"}, "text": {"field": "label"}}
                    },
                    {
                      "data": {"values": [{"t": 25.217, "p": 74.1, "label": "Chromatogram"}]},
                      "mark": {"type": "text", "font": "Open Sans", "fontWeight": 300, "fontSize": 21.7, "color": "#222", "align": "left", "baseline": "alphabetic"},
                      "encoding": {"x": {"field": "t", "type": "quantitative"}, "y": {"field": "p", "type": "quantitative"}, "text": {"field": "label"}}
                    },
                    {
                      "data": {"values": [{"t": 16.870, "p": 107.8, "label": "c)"}]},
                      "mark": {"type": "text", "font": "Liberation Serif", "fontSize": 18, "color": "#000", "align": "left", "baseline": "alphabetic"},
                      "encoding": {"x": {"field": "t", "type": "quantitative"}, "y": {"field": "p", "type": "quantitative"}, "text": {"field": "label"}}
                    }
                  ]
                },
                {
                  "width": 727, "height": 169,
                  "layer": [
                    {
                      "data": {"name": "msC"},
                      "mark": {"type": "rule", "color": "#ff0000", "strokeWidth": 1},
                      "encoding": {
                        "x": {"field": "mz", "type": "quantitative", "scale": {"domain": [60, 350], "nice": false, "zero": false},
                          "axis": {"title": "m/z", "titleFontStyle": "italic", "titleX": 736, "titleY": 3, "titleAlign": "left", "titleBaseline": "middle", "titleAngle": 0,
                            "tickCount": 145, "labelPadding": 2,
                            "labelExpr": "datum.value % 20 == 0 ? format(datum.value, 'd') : ''",
                            "tickSize": {"condition": {"test": "datum.value % 10 == 0", "value": 5}, "value": 3}}},
                        "y": {"field": "int", "type": "quantitative", "scale": {"domain": [0, 100], "nice": false, "zero": false},
                          "axis": {"title": "%", "titleX": -3, "titleY": 81, "titleBaseline": "bottom", "titleAlign": "center", "titleAngle": -90,
                            "tickCount": 10, "labelPadding": 0,
                            "labelExpr": "datum.value == 0 || datum.value == 100 ? format(datum.value, 'd') : ''",
                            "tickSize": {"condition": {"test": "datum.value == 0 || datum.value == 100", "value": 8}, "value": 3.5}}},
                        "y2": {"datum": 0}
                      }
                    },
                    {
                      "data": {"values": [{"mz": 45.24, "int": 113.6, "mz2": 365.95, "int2": 113.6}, {"mz": 45.24, "int": 113.6, "mz2": 45.24, "int2": -14.2}, {"mz": 365.95, "int": 113.6, "mz2": 365.95, "int2": -14.2}]},
                      "mark": {"type": "rule", "color": "#4d4d4d", "strokeWidth": 2, "strokeCap": "square"},
                      "encoding": {"x": {"field": "mz", "type": "quantitative"}, "x2": {"field": "mz2"}, "y": {"field": "int", "type": "quantitative"}, "y2": {"field": "int2"}}
                    },
                    {
                      "data": {"values": [{"mz": 75, "int": 2.6, "mz2": 72, "int2": 4.4}, {"mz": 113.3, "int": 4, "mz2": 116, "int2": 8}, {"mz": 169.3, "int": 3, "mz2": 172.3, "int2": 8}, {"mz": 216.3, "int": 4.3, "mz2": 219, "int2": 8.5}, {"mz": 307.3, "int": 1.2, "mz2": 310, "int2": 6}]},
                      "mark": {"type": "rule", "color": "#000", "strokeWidth": 0.8},
                      "encoding": {"x": {"field": "mz", "type": "quantitative"}, "x2": {"field": "mz2"}, "y": {"field": "int", "type": "quantitative"}, "y2": {"field": "int2"}}
                    },
                    {
                      "data": {"values": [{"mz": 65, "int": 31.3, "label": "65"}, {"mz": 68.7, "int": 3.0, "label": "75"}, {"mz": 77, "int": 6.9, "label": "77"}, {"mz": 91, "int": 77.2, "label": "91"}, {"mz": 117.7, "int": 8.5, "label": "113"}, {"mz": 139, "int": 41, "label": "139"}, {"mz": 152, "int": 5.9, "label": "152"}, {"mz": 168, "int": 62.5, "label": "168"}, {"mz": 174, "int": 8.5, "label": "169"}, {"mz": 187, "int": 3.1, "label": "187"}, {"mz": 215, "int": 100.6, "label": "215"}, {"mz": 220.2, "int": 9.1, "label": "216"}, {"mz": 306, "int": 16.6, "label": "306"}, {"mz": 311.6, "int": 6.5, "label": "307"}]},
                      "mark": {"type": "text", "font": "Liberation Sans", "fontSize": 13.5, "color": "#000", "align": "center", "baseline": "bottom"},
                      "encoding": {"x": {"field": "mz", "type": "quantitative"}, "y": {"field": "int", "type": "quantitative"}, "text": {"field": "label"}}
                    },
                    {
                      "data": {"values": [{"mz": 288.3, "int": 59.3, "label": "Mass spectrum"}]},
                      "mark": {"type": "text", "font": "Open Sans", "fontWeight": 300, "fontSize": 21.7, "color": "#222", "align": "left", "baseline": "alphabetic"},
                      "encoding": {"x": {"field": "mz", "type": "quantitative"}, "y": {"field": "int", "type": "quantitative"}, "text": {"field": "label"}}
                    }
                  ]
                }
              ]
            }
          ]
        }
      ]
    }
  ]
}
